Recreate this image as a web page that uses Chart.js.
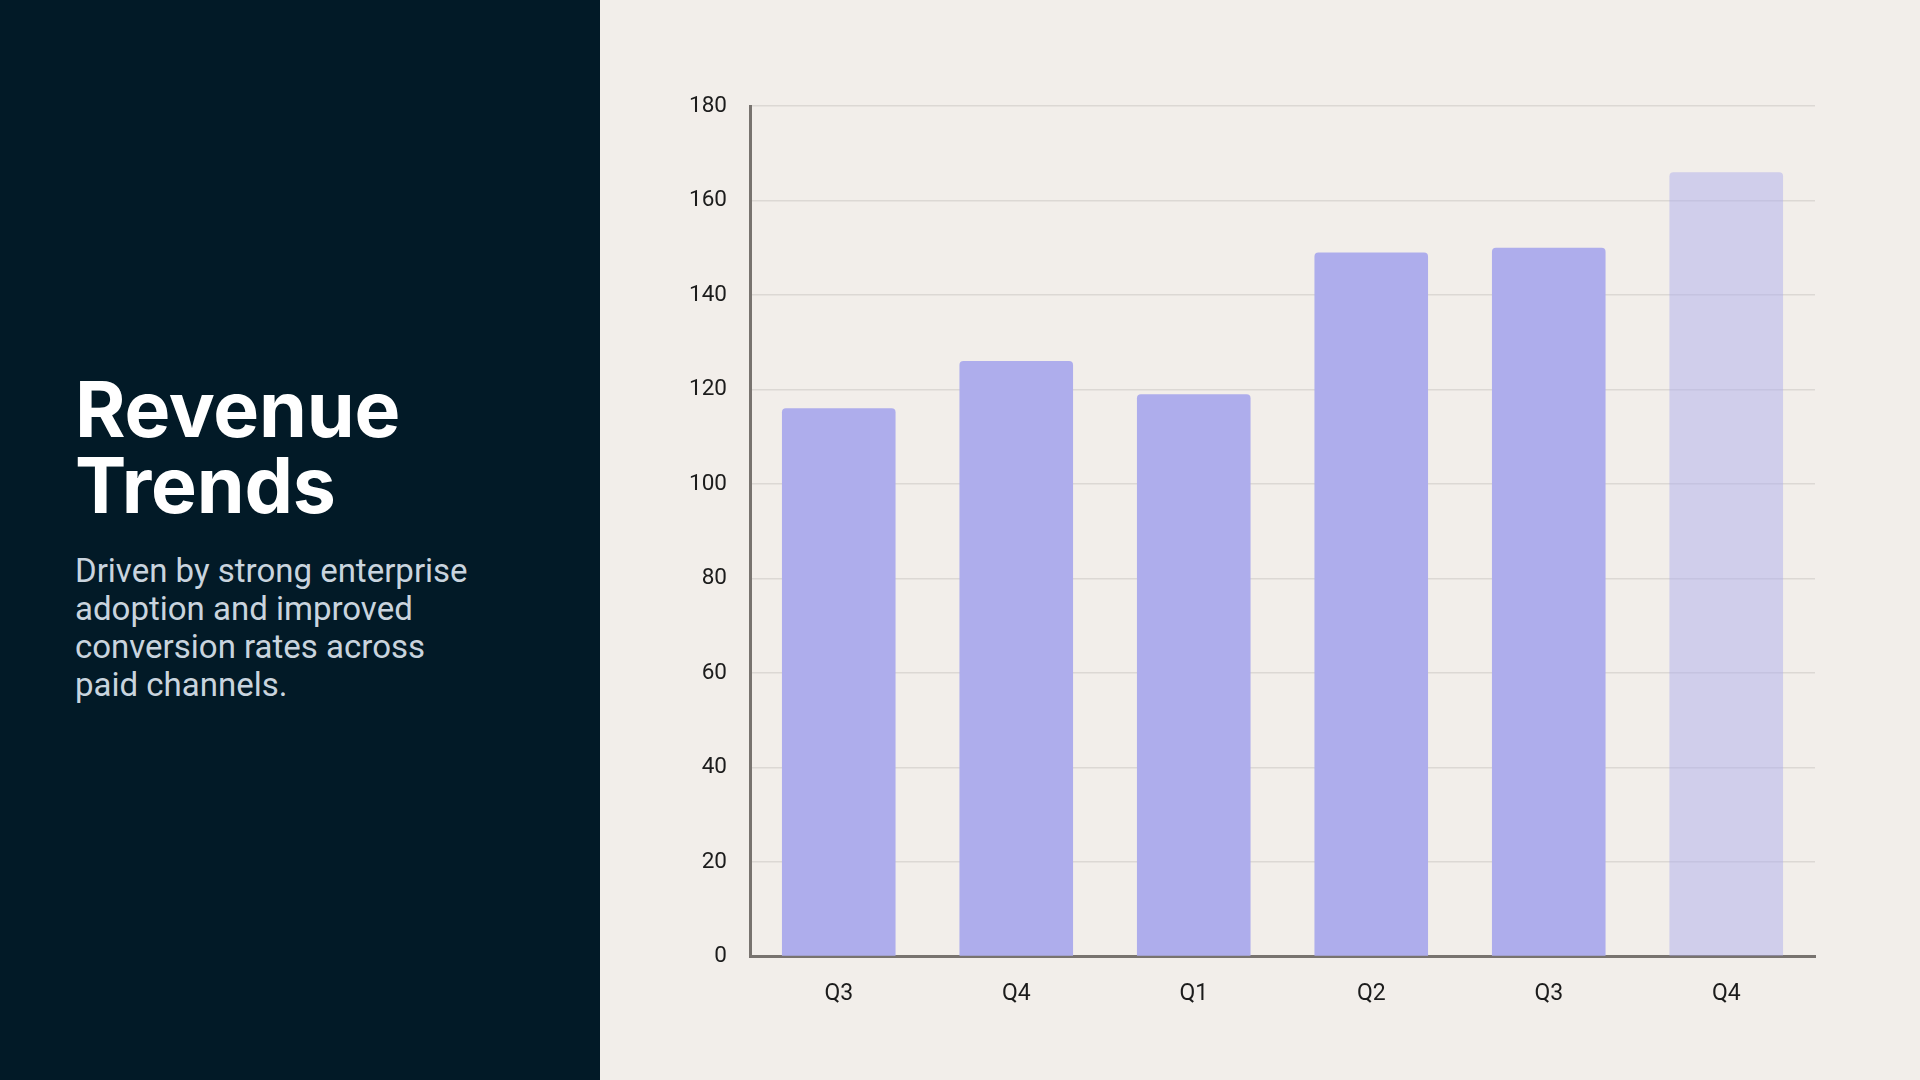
<!DOCTYPE html>
<html>
<head>
<meta charset="utf-8">
<script src="https://cdn.jsdelivr.net/npm/chart.js@4.4.1/dist/chart.umd.min.js"></script>
<style>
  html, body { margin: 0; padding: 0; }
  body { width: 1920px; height: 1080px; position: relative; overflow: hidden; background: #f2eeea; }
  .side { position: absolute; left: 0; top: 0; width: 600px; height: 1080px; background: #021a27; }
  .side h1 {
    position: absolute; left: 75px; top: 371px; margin: 0;
    font-family: Inter, sans-serif; font-weight: 700; font-size: 77px; line-height: 76px;
    color: #ffffff; letter-spacing: -0.2px;
  }
  .side p {
    position: absolute; left: 75px; top: 552px; margin: 0; width: 412px;
    font-family: Roboto, sans-serif; font-size: 33px; line-height: 38px; color: #c9d4de;
  }
  #wrap { position: absolute; left: 600px; top: 0; width: 1320px; height: 1080px; }
</style>
</head>
<body>
<div class="side">
  <h1>Revenue<br>Trends</h1>
  <p>Driven by strong enterprise adoption and improved conversion rates across paid channels.</p>
</div>
<div id="wrap"><canvas id="bar-chart" width="1320" height="1080"></canvas></div>
<script>
var quarters = ['Q3', 'Q4', 'Q1', 'Q2', 'Q3', 'Q4'];
var revenue = [116, 126, 119, 149, 150, 166];
var yTicks = [0, 20, 40, 60, 80, 100, 120, 140, 160, 180];

var barColor = '#aeadec';
var lastBarColor = 'rgba(174, 173, 236, 0.5)';

new Chart(document.getElementById('bar-chart'), {
  type: 'bar',
  data: {
    labels: quarters,
    datasets: [{
      data: revenue,
      backgroundColor: function(ctx) {
        // latest quarter is drawn lighter
        return ctx.dataIndex === revenue.length - 1 ? lastBarColor : barColor;
      },
      borderRadius: 4,
      borderSkipped: 'start',
      categoryPercentage: 1,
      barPercentage: 0.64
    }]
  },
  options: {
    responsive: false,
    animation: false,
    devicePixelRatio: 1,
    layout: { padding: { left: 0, right: 105, top: 106, bottom: 48 } },
    plugins: { legend: { display: false }, tooltip: { enabled: false } },
    scales: {
      x: {
        grid: { display: false, drawTicks: false },
        border: { display: true, color: '#78736f', width: 3 },
        ticks: { color: '#1c1c1c', padding: 24, font: { family: 'Roboto', size: 23 } }
      },
      y: {
        min: yTicks[0],
        max: yTicks[yTicks.length - 1],
        afterFit: function(scale) { scale.width = 150; },
        afterBuildTicks: function(scale) {
          scale.ticks = yTicks.map(function(v) { return { value: v }; });
        },
        grid: { color: '#dcd8d4', lineWidth: 1.5, drawTicks: false },
        border: { display: true, color: '#78736f', width: 3 },
        ticks: { color: '#1c1c1c', padding: 23, font: { family: 'Roboto', size: 22.5 } }
      }
    }
  }
}); //End chart
</script>
</body>
</html>
